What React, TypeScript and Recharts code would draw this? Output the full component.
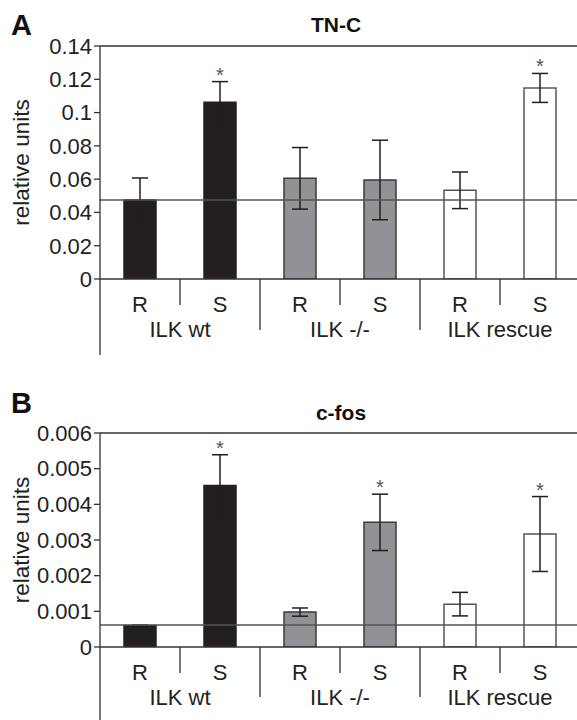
import React from 'react';
import { ComposedChart, Bar, Cell, XAxis, YAxis, ErrorBar, ReferenceLine, Line, Label } from 'recharts';

const categories = ['R', 'S', 'R', 'S', 'R', 'S'];
const groups = ['ILK wt', 'ILK -/-', 'ILK rescue'];

const tncValues = [0.0475, 0.1062, 0.0605, 0.0595, 0.0533, 0.1148];
const tncErrors = [0.0132, 0.0124, 0.0185, 0.0239, 0.011, 0.0087];
const tncSig = [false, true, false, false, false, true];
const tncBaseline = 0.0475;
const tncTicks = [0, 0.02, 0.04, 0.06, 0.08, 0.1, 0.12, 0.14];

const fosValues = [0.000604, 0.00453, 0.000979, 0.003495, 0.001202, 0.003168];
const fosErrors = [0.00001, 0.00086, 0.000115, 0.00079, 0.00033, 0.00105];
const fosSig = [false, true, false, true, false, true];
const fosBaseline = 0.00062;
const fosTicks = [0, 0.001, 0.002, 0.003, 0.004, 0.005, 0.006];

const FONT = '"Liberation Sans", Arial, Helvetica, sans-serif';
const FS = 22;
const groupFill = ['#231f20', '#929196', '#ffffff'];
const groupStroke = ['#231f20', '#3a3a3a', '#555555'];

const CHART_W = 600;
const MARGIN_RIGHT = 20;
const YAXIS_W = 100;
const PLOT_W = CHART_W - MARGIN_RIGHT - YAXIS_W;
const HALF_BAND = PLOT_W / categories.length / 2;

function buildRows(values: number[], errors: number[], sig: boolean[]) {
  return categories.map((c, i) => ({
    cat: c + i,
    label: c,
    group: groups[Math.floor(i / 2)],
    value: values[i],
    err: errors[i],
    star: sig[i] ? values[i] + errors[i] : null,
  }));
}

const tncRows = buildRows(tncValues, tncErrors, tncSig);
const fosRows = buildRows(fosValues, fosErrors, fosSig);

function makeTick(rows: any[], labelDy: number, groupDy: number, shortLen: number, longLen: number, axisExt: number) {
  return (props: any) => {
    const { x, y, index } = props;
    const row = rows[index];
    const last = index === rows.length - 1;
    return (
      <g>
        <text x={x} y={y + labelDy} textAnchor="middle" fontSize={FS} fill="#222" fontFamily={FONT}>
          {row.label}
        </text>
        {index === 0 && (
          <line x1={x - HALF_BAND} x2={x - HALF_BAND} y1={y} y2={y + axisExt} stroke="#333" strokeWidth={1.3} />
        )}
        {index % 2 === 0 && (
          <line x1={x + HALF_BAND} x2={x + HALF_BAND} y1={y} y2={y + shortLen} stroke="#333" strokeWidth={1.3} />
        )}
        {index % 2 === 1 && !last && (
          <line x1={x + HALF_BAND} x2={x + HALF_BAND} y1={y} y2={y + longLen} stroke="#333" strokeWidth={1.3} />
        )}
        {index % 2 === 1 && (
          <text x={x - HALF_BAND} y={y + groupDy} textAnchor="middle" fontSize={FS} fill="#222" fontFamily={FONT}>
            {row.group}
          </text>
        )}
      </g>
    );
  };
}

const starDot = (props: any) => {
  const { cx, cy, value, index } = props;
  if (value == null || cx == null || cy == null) return <g key={'s' + index} />;
  return (
    <text key={'s' + index} x={cx} y={cy} textAnchor="middle" fontSize={20} fill="#555" fontFamily={FONT}>
      *
    </text>
  );
};

const yLabel = (props: any) => {
  const vb = props.viewBox;
  const cy = vb.y + vb.height / 2;
  return (
    <text x={21} y={cy} transform={`rotate(-90, 21, ${cy})`} textAnchor="middle" dominantBaseline="central" fontSize={22.5} fill="#222" fontFamily={FONT}>
      relative units
    </text>
  );
};

function Panel(props: { rows: any[]; ticks: number[]; baseline: number; top: number; axisH: number; labelDy: number; groupDy: number; shortLen: number; longLen: number; axisExt: number }) {
  const { rows, ticks, baseline, top, axisH } = props;
  const max = ticks[ticks.length - 1];
  return (
    <ComposedChart width={CHART_W} height={360} data={rows} margin={{ top, right: MARGIN_RIGHT, bottom: 0, left: 0 }}>
      <XAxis
        dataKey="cat"
        height={axisH}
        tickLine={false}
        tickSize={0}
        tickMargin={0}
        axisLine={{ stroke: '#333', strokeWidth: 1.5 }}
        interval={0}
        tick={makeTick(rows, props.labelDy, props.groupDy, props.shortLen, props.longLen, props.axisExt)}
      />
      <YAxis
        width={YAXIS_W}
        domain={[0, max]}
        ticks={ticks}
        interval={0}
        tickSize={6}
        tickMargin={2}
        axisLine={{ stroke: '#333', strokeWidth: 1.3 }}
        tickLine={{ stroke: '#333', strokeWidth: 1.3 }}
        tick={{ fontSize: FS, fill: '#222', fontFamily: FONT }}
        allowDataOverflow
      >
        <Label content={yLabel} />
      </YAxis>
      <Bar dataKey="value" barSize={32} isAnimationActive={false} strokeWidth={1.5}>
        {rows.map((r, i) => (
          <Cell key={i} fill={groupFill[Math.floor(i / 2)]} stroke={groupStroke[Math.floor(i / 2)]} />
        ))}
        <ErrorBar dataKey="err" width={8} stroke="#231f20" strokeWidth={1.5} direction="y" />
      </Bar>
      <ReferenceLine y={baseline} stroke="#555" strokeWidth={1.5} />
      <ReferenceLine y={max} stroke="#333" strokeWidth={1.5} />
      <Line dataKey="star" stroke="none" dot={starDot} activeDot={false} isAnimationActive={false} connectNulls={false} />
    </ComposedChart>
  );
}

export default function App() {
  return (
    <div style={{ position: 'absolute', left: 0, top: 0, width: 577, height: 720, overflow: 'hidden', background: '#fff', fontFamily: FONT }}>
      <div style={{ position: 'absolute', left: 0, top: 0 }}>
        <Panel rows={tncRows} ticks={tncTicks} baseline={tncBaseline} top={46} axisH={81} labelDy={32.5} groupDy={57.5} shortLen={26} longLen={51} axisExt={76} />
      </div>
      <div style={{ position: 'absolute', left: 0, top: 360 }}>
        <Panel rows={fosRows} ticks={fosTicks} baseline={fosBaseline} top={73} axisH={73} labelDy={33} groupDy={58} shortLen={26} longLen={50} axisExt={75} />
      </div>
      <svg width={577} height={720} style={{ position: 'absolute', left: 0, top: 0, pointerEvents: 'none' }}>
        <text x={11} y={35} fontSize={29} fontWeight="bold" fill="#111" fontFamily={FONT}>A</text>
        <text x={336} y={31.5} textAnchor="middle" fontSize={21} fontWeight="bold" fill="#111" fontFamily={FONT}>TN-C</text>
        <text x={11} y={413} fontSize={29} fontWeight="bold" fill="#111" fontFamily={FONT}>B</text>
        <text x={341} y={420} textAnchor="middle" fontSize={21} fontWeight="bold" fill="#111" fontFamily={FONT}>c-fos</text>
      </svg>
    </div>
  );
}
